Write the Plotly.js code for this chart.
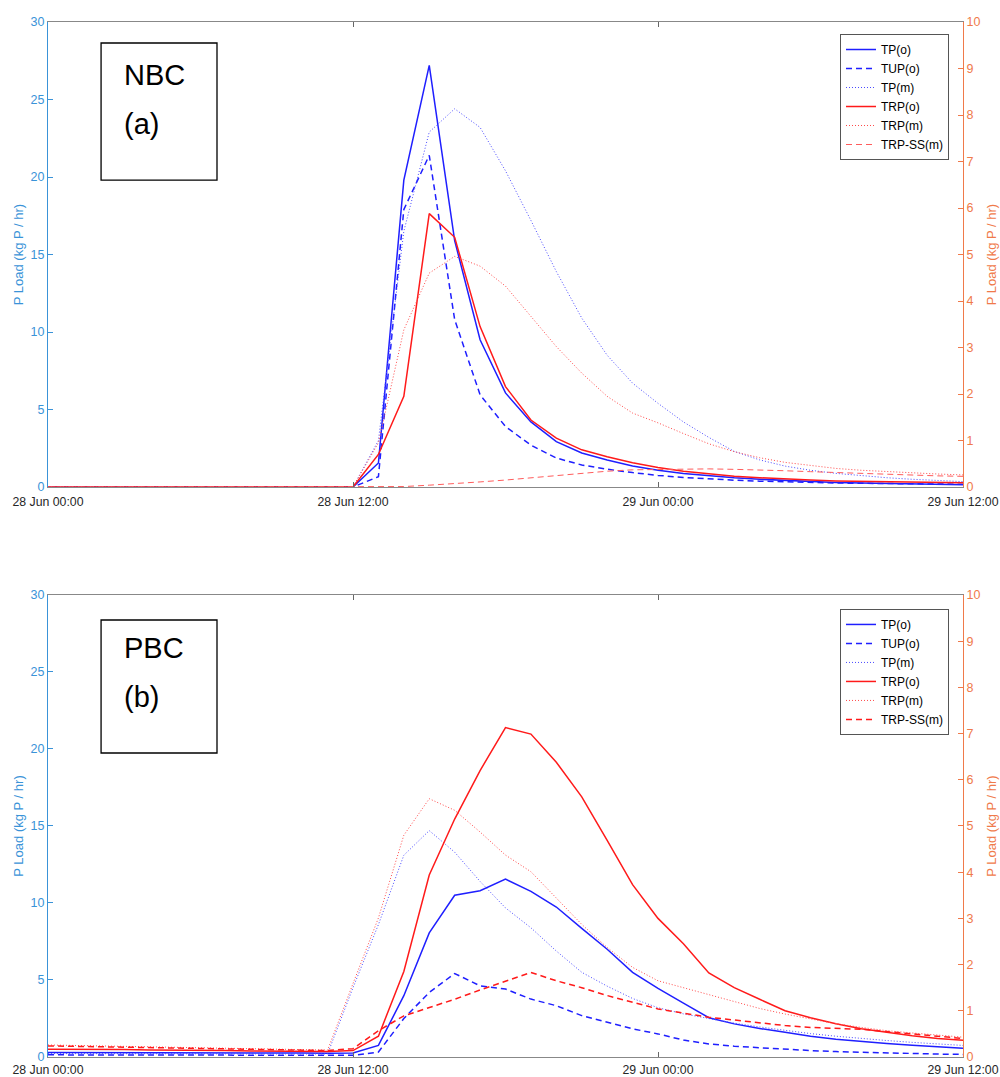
<!DOCTYPE html>
<html>
<head>
<meta charset="utf-8">
<script src="https://cdn.plot.ly/plotly-3.0.1.min.js"></script>
<style>
  html, body { margin: 0; padding: 0; background: #ffffff; }
  #chart { width: 1000px; height: 1077px; }
</style>
</head>
<body>
<div id="chart"></div>
<script>
// Hourly time stamps, 28 Jun 00:00 .. 29 Jun 12:00
const times = [
  '2019-06-28 00:00','2019-06-28 01:00','2019-06-28 02:00','2019-06-28 03:00','2019-06-28 04:00','2019-06-28 05:00',
  '2019-06-28 06:00','2019-06-28 07:00','2019-06-28 08:00','2019-06-28 09:00','2019-06-28 10:00','2019-06-28 11:00',
  '2019-06-28 12:00','2019-06-28 13:00','2019-06-28 14:00','2019-06-28 15:00','2019-06-28 16:00','2019-06-28 17:00',
  '2019-06-28 18:00','2019-06-28 19:00','2019-06-28 20:00','2019-06-28 21:00','2019-06-28 22:00','2019-06-28 23:00',
  '2019-06-29 00:00','2019-06-29 01:00','2019-06-29 02:00','2019-06-29 03:00','2019-06-29 04:00','2019-06-29 05:00',
  '2019-06-29 06:00','2019-06-29 07:00','2019-06-29 08:00','2019-06-29 09:00','2019-06-29 10:00','2019-06-29 11:00',
  '2019-06-29 12:00'
];

const seriesNames = ['TP(o)', 'TUP(o)', 'TP(m)', 'TRP(o)', 'TRP(m)', 'TRP-SS(m)'];
const panelLabels = [['NBC', '(a)'], ['PBC', '(b)']];
const leftAxisTitle = 'P Load (kg P / hr)';
const rightAxisTitle = 'P Load (kg P / hr)';

// ---- Panel (a) NBC ----  (TP, TUP, TP(m) on left axis; TRP series on right axis)
const nbcTPo   = [0,0,0,0,0,0,0,0,0,0,0,0, 0,1.55,19.8,27.2,15.9,9.5,6.07,4.2,2.93,2.2,1.75,1.36, 1.08,0.88,0.72,0.6,0.5,0.42,0.35,0.3,0.26,0.22,0.19,0.16,0.14];
const nbcTUPo  = [0,0,0,0,0,0,0,0,0,0,0,0, 0,0.67,17.9,21.4,10.8,5.95,3.9,2.7,1.87,1.42,1.15,0.93, 0.75,0.62,0.52,0.44,0.38,0.33,0.29,0.26,0.24,0.22,0.2,0.19,0.18];
const nbcTPm   = [0,0,0,0,0,0,0,0,0,0,0,0, 0,3.0,16.5,22.9,24.4,23.2,20.4,17.2,13.9,10.9,8.5,6.7, 5.4,4.2,3.2,2.3,1.75,1.35,1.08,0.88,0.72,0.6,0.5,0.42,0.35];
const nbcTRPo  = [0,0,0,0,0,0,0,0,0,0,0,0, 0,0.7,1.95,5.88,5.37,3.45,2.16,1.44,1.05,0.8,0.65,0.52, 0.42,0.34,0.28,0.23,0.2,0.17,0.15,0.13,0.12,0.11,0.1,0.09,0.09];
const nbcTRPm  = [0,0,0,0,0,0,0,0,0,0,0,0, 0,0.95,3.38,4.6,4.96,4.75,4.32,3.67,3.02,2.45,1.95,1.59, 1.38,1.15,0.93,0.76,0.63,0.53,0.46,0.4,0.36,0.33,0.3,0.28,0.26];
const nbcTRPSS = [0,0,0,0,0,0,0,0,0,0,0,0, 0,0,0.01,0.04,0.07,0.11,0.15,0.2,0.25,0.3,0.34,0.37, 0.38,0.39,0.39,0.38,0.37,0.35,0.33,0.31,0.3,0.28,0.26,0.24,0.23];

// ---- Panel (b) PBC ----
const pbcTPo   = [0.3,0.3,0.29,0.29,0.28,0.28,0.27,0.27,0.26,0.26,0.26,0.25, 0.26,0.75,3.98,8.06,10.5,10.8,11.55,10.75,9.74,8.35,7.0,5.5, 4.45,3.5,2.55,2.15,1.85,1.6,1.35,1.15,1.0,0.88,0.77,0.66,0.56];
const pbcTUPo  = [0.14,0.14,0.14,0.13,0.13,0.13,0.12,0.12,0.12,0.12,0.11,0.11, 0.11,0.32,2.5,4.19,5.42,4.62,4.41,3.76,3.33,2.69,2.26,1.83, 1.5,1.1,0.85,0.7,0.6,0.5,0.42,0.35,0.3,0.26,0.22,0.19,0.17];
const pbcTPm   = [0.22,0.22,0.21,0.21,0.21,0.2,0.2,0.2,0.2,0.19,0.19,0.2, 4.5,8.6,13.1,14.7,13.3,11.4,9.68,8.39,6.88,5.5,4.6,3.8, 3.2,2.8,2.5,2.2,1.95,1.72,1.52,1.35,1.2,1.07,0.95,0.84,0.75];
const pbcTRPo  = [0.17,0.17,0.16,0.16,0.15,0.15,0.14,0.14,0.13,0.13,0.12,0.12, 0.14,0.45,1.85,3.94,5.15,6.2,7.13,6.99,6.38,5.63,4.69,3.73, 3.0,2.45,1.82,1.5,1.25,1.0,0.85,0.72,0.61,0.53,0.46,0.4,0.36];
const pbcTRPm  = [0.26,0.25,0.24,0.23,0.22,0.21,0.2,0.19,0.18,0.17,0.16,0.15, 1.59,3.01,4.8,5.59,5.34,4.87,4.37,4.01,3.44,2.87,2.37,1.94, 1.65,1.5,1.36,1.2,1.05,0.93,0.82,0.72,0.64,0.57,0.52,0.47,0.43];
const pbcTRPSS = [0.24,0.23,0.22,0.21,0.2,0.19,0.18,0.17,0.16,0.15,0.15,0.14, 0.18,0.57,0.89,1.07,1.25,1.45,1.64,1.83,1.65,1.5,1.33,1.18, 1.04,0.95,0.86,0.8,0.74,0.68,0.64,0.62,0.6,0.55,0.5,0.45,0.4];

const BLUE = '#1f1fff';
const RED = '#ff1a1a';
const LEFTC = '#3a93d8';
const RIGHTC = '#f07a4a';
const FONT = 'Liberation Sans, Arial, Helvetica, sans-serif';

function panelTraces(vals, xa, yl, yr, legendId, ssStyle) {
  const styles = [
    {color: BLUE, width: 1.5, dash: 'solid'},
    {color: BLUE, width: 1.5, dash: '6px,4px'},
    {color: '#4a4aff', width: 1, dash: '1px,2px'},
    {color: RED, width: 1.5, dash: 'solid'},
    {color: '#ff4a4a', width: 1, dash: '1px,2px'},
    ssStyle
  ];
  const axesY = [yl, yl, yl, yr, yr, yr];
  return vals.map((v, i) => ({
    type: 'scatter', mode: 'lines',
    x: times, y: v, name: seriesNames[i],
    xaxis: xa, yaxis: axesY[i], legend: legendId,
    line: styles[i], hoverinfo: 'skip'
  }));
}

const data = [].concat(
  panelTraces([nbcTPo, nbcTUPo, nbcTPm, nbcTRPo, nbcTRPm, nbcTRPSS], 'x', 'y', 'y2', 'legend',
              {color: '#ff5c5c', width: 1, dash: '6px,4px'}),
  panelTraces([pbcTPo, pbcTUPo, pbcTPm, pbcTRPo, pbcTRPm, pbcTRPSS], 'x2', 'y3', 'y4', 'legend2',
              {color: RED, width: 1.5, dash: '6px,4px'})
);

const xRange = [times[0], times[times.length - 1]];
function xAxis(anchor, standoff) {
  return {
    type: 'date', range: xRange, anchor: anchor, domain: [0, 1],
    tick0: times[0], dtick: 12 * 3600 * 1000, tickformat: '%d %b %H:%M',
    ticks: 'inside', ticklen: 5, tickcolor: '#666666',
    showline: true, linecolor: '#888888', linewidth: 1, mirror: 'ticks',
    showgrid: false, zeroline: false, ticklabelstandoff: standoff,
    tickfont: {family: FONT, size: 12.3, color: '#262626'}
  };
}
function leftAxis(domain, anchor) {
  return {
    domain: domain, anchor: anchor, range: [0, 30], dtick: 5,
    ticks: 'inside', ticklen: 5, tickcolor: LEFTC,
    showline: true, linecolor: LEFTC, linewidth: 1,
    showgrid: false, zeroline: false,
    tickfont: {family: FONT, size: 12.5, color: LEFTC},
    title: {text: leftAxisTitle, font: {family: FONT, size: 13, color: LEFTC}, standoff: 4}
  };
}
function rightAxis(over, anchor) {
  return {
    overlaying: over, anchor: anchor, side: 'right', range: [0, 10], dtick: 1,
    ticks: 'inside', ticklen: 5, tickcolor: RIGHTC,
    showline: true, linecolor: RIGHTC, linewidth: 1,
    showgrid: false, zeroline: false,
    tickfont: {family: FONT, size: 12.5, color: RIGHTC},
    title: {text: rightAxisTitle, font: {family: FONT, size: 13, color: RIGHTC}, standoff: 7}
  };
}
function legendBox(yTop) {
  return {
    x: 0.9847, xanchor: 'right', y: yTop, yanchor: 'top',
    bgcolor: '#ffffff', bordercolor: '#555555', borderwidth: 1,
    font: {family: FONT, size: 12, color: '#000000'},
    tracegroupgap: 0, itemclick: false
  };
}

const layout = {
  width: 1000, height: 1077,
  margin: {l: 48, r: 37, t: 22, b: 20},
  paper_bgcolor: '#ffffff', plot_bgcolor: '#ffffff',
  font: {family: FONT},
  showlegend: true,
  xaxis: xAxis('y', 3),
  yaxis: leftAxis([0.5507, 1], 'x'),
  yaxis2: rightAxis('y', 'x'),
  xaxis2: xAxis('y3', 1),
  yaxis3: leftAxis([0, 0.4464], 'x2'),
  yaxis4: rightAxis('y3', 'x2'),
  legend: legendBox(0.9884),
  legend2: legendBox(0.4329),
  shapes: [
    {type: 'rect', xref: 'paper', yref: 'paper', x0: 0.058, x1: 0.1847, y0: 0.8473, y1: 0.9797,
     line: {color: '#000000', width: 1.3}, fillcolor: 'rgba(0,0,0,0)'},
    {type: 'rect', xref: 'paper', yref: 'paper', x0: 0.058, x1: 0.1847, y0: 0.2937, y1: 0.4222,
     line: {color: '#000000', width: 1.3}, fillcolor: 'rgba(0,0,0,0)'}
  ],
  annotations: [
    {xref: 'paper', yref: 'paper', x: 0.0809, y: 0.9488, xanchor: 'left', yanchor: 'middle', showarrow: false,
     text: panelLabels[0][0], font: {family: FONT, size: 29, color: '#000000'}},
    {xref: 'paper', yref: 'paper', x: 0.0809, y: 0.9014, xanchor: 'left', yanchor: 'middle', showarrow: false,
     text: panelLabels[0][1], font: {family: FONT, size: 29, color: '#000000'}},
    {xref: 'paper', yref: 'paper', x: 0.0809, y: 0.3952, xanchor: 'left', yanchor: 'middle', showarrow: false,
     text: panelLabels[1][0], font: {family: FONT, size: 29, color: '#000000'}},
    {xref: 'paper', yref: 'paper', x: 0.0809, y: 0.3478, xanchor: 'left', yanchor: 'middle', showarrow: false,
     text: panelLabels[1][1], font: {family: FONT, size: 29, color: '#000000'}}
  ]
};

Plotly.newPlot('chart', data, layout, {displayModeBar: false, staticPlot: true});
</script>
</body>
</html>
